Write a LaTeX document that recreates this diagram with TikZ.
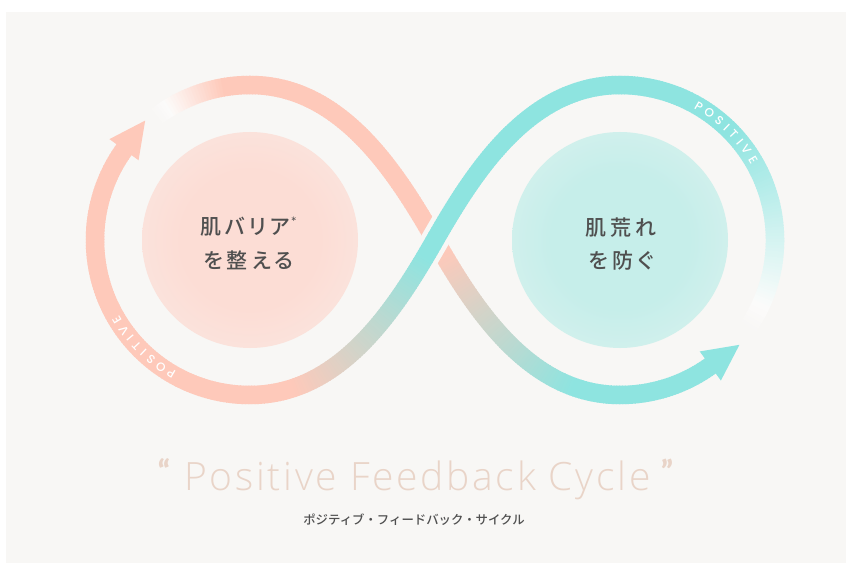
\documentclass[tikz,border=0pt]{standalone}
\usepackage{fontspec}
\usetikzlibrary{calc}

\newfontfamily\jpfont{Noto Sans CJK JP}
\IfFontExistsTF{Noto Sans CJK JP Medium}
  {\newfontfamily\jpmid[RawFeature=+palt]{Noto Sans CJK JP Medium}\newfontfamily\jpsub{Noto Sans CJK JP Medium}}
  {\newfontfamily\jpmid[RawFeature=+palt]{Noto Sans CJK JP}\newfontfamily\jpsub{Noto Sans CJK JP}}
\IfFontExistsTF{Open Sans Light}
  {\newfontfamily\titlefont[Ligatures=NoCommon,LetterSpace=7]{Open Sans Light}}
  {\newfontfamily\titlefont[Ligatures=NoCommon,LetterSpace=9]{Lato Light}}
\IfFontExistsTF{Lato Black}
  {\newfontfamily\quotefont{Lato Black}}
  {\newfontfamily\quotefont{Lato}[BoldFont=*]}
\IfFontExistsTF{Poppins Medium}
  {\newfontfamily\posfont{Poppins Medium}}
  {\newfontfamily\posfont{Poppins}}
\newfontfamily\astfont{Lato}

\definecolor{bgc}{HTML}{F8F7F5}
\definecolor{pinkc}{HTML}{FEC9BA}
\definecolor{tealc}{HTML}{8EE4E0}
\definecolor{blobP}{HTML}{FCDDD5}
\definecolor{blobT}{HTML}{C6EEEA}
\definecolor{txtc}{HTML}{4F4F4F}
\definecolor{titlec}{HTML}{E9D4C8}
\colorlet{blobPa}{blobP!80!bgc}
\colorlet{blobPb}{blobP!52!bgc}
\colorlet{blobPc}{blobP!26!bgc}
\colorlet{blobPd}{blobP!8!bgc}
\colorlet{blobTa}{blobT!80!bgc}
\colorlet{blobTb}{blobT!52!bgc}
\colorlet{blobTc}{blobT!26!bgc}
\colorlet{blobTd}{blobT!8!bgc}
\colorlet{fadec}{white!60!bgc}

\pgfdeclareradialshading{blobpink}{\pgfpointorigin}{color(0bp)=(blobP); color(16bp)=(blobP); color(25bp)=(blobPa); color(32bp)=(blobPb); color(38bp)=(blobPc); color(44bp)=(blobPd); color(50bp)=(bgc)}
\pgfdeclareradialshading{blobteal}{\pgfpointorigin}{color(0bp)=(blobT); color(16bp)=(blobT); color(25bp)=(blobTa); color(32bp)=(blobTb); color(38bp)=(blobTc); color(44bp)=(blobTd); color(50bp)=(bgc)}

\newcommand\jsp{\kern4pt}

\tikzset{
  strand/.style={line width=18.5pt},
  centertxt/.style={font=\jpmid\fontsize{21}{24}\selectfont, text=txtc, inner sep=0pt},
  postxt/.style={font=\posfont\fontsize{12}{12}\selectfont, text=white, inner sep=0pt, anchor=base},
  titletxt/.style={text=titlec, anchor=base, inner sep=0pt}
}

\def\pathA{([shift={(128:155pt)}]cL) arc[start angle=128,end angle=90,radius=155pt] .. controls (340,478) and (395,393) .. (cX) .. controls (475,253) and (530,168) .. (620,168) arc[start angle=270,end angle=306,radius=155pt]}
\def\pathB{([shift={(-35:155pt)}]cR) arc[start angle=-35,end angle=90,radius=155pt] .. controls (530,478) and (475,393) .. (cX) .. controls (395,253) and (340,168) .. (250,168) arc[start angle=270,end angle=144,radius=155pt]}

\begin{document}
\begin{tikzpicture}[x=1pt,y=1pt]
\useasboundingbox (0,0) rectangle (846,563);
\fill[white] (0,0) rectangle (846,563);
\fill[bgc] (6,0) rectangle (846,551);

\coordinate (cL) at (250,323);
\coordinate (cR) at (620,323);
\coordinate (cX) at (435,323);

% soft blobs
\shade[shading=blobpink] (cL) circle[radius=108pt];
\shade[shading=blobteal] (cR) circle[radius=108pt];

% strand A : pink -> teal
\foreach \i in {0,...,239}{
  \pgfmathsetmacro\sA{3*\i}
  \pgfmathsetmacro\wA{min(100,\sA/0.2)}
  \pgfmathsetmacro\fA{min(100,max(0,(\sA-15)/0.6))}
  \pgfmathsetmacro\gA{min(100,max(0,(\sA-370)/1.9))}
  \pgfmathsetmacro\phA{3004-\sA}
  \colorlet{mixc}{tealc!\gA!pinkc}
  \colorlet{basec}{fadec!\wA!bgc}
  \draw[strand, color=mixc!\fA!basec, dash pattern=on 4pt off 3000pt, dash phase=\phA pt] \pathA;
}
\coordinate (eA) at ([shift={(306:155pt)}]cR);
\fill[tealc] ($(eA)+(36:35pt)$) -- ($(eA)+(306:18pt)+(216:1pt)$) -- ($(eA)+(126:18pt)+(216:1pt)$) -- cycle;

% gap at the crossing
\draw[line width=28pt, bgc, dash pattern=on 90pt off 3000pt, dash phase=2545pt] \pathB;

% strand B : teal -> pink
\foreach \i in {0,...,399}{
  \pgfmathsetmacro\sB{3*\i}
  \pgfmathsetmacro\wB{min(100,\sB/0.3)}
  \pgfmathsetmacro\fB{min(100,max(0,(\sB-25)/1.9))}
  \pgfmathsetmacro\gB{min(100,max(0,(\sB-610)/1.9))}
  \pgfmathsetmacro\phB{3004-\sB}
  \colorlet{mixc}{pinkc!\gB!tealc}
  \colorlet{basec}{fadec!\wB!bgc}
  \draw[strand, color=mixc!\fB!basec, dash pattern=on 4pt off 3000pt, dash phase=\phB pt] \pathB;
}
\coordinate (eB) at ([shift={(144:155pt)}]cL);
\fill[pinkc] ($(eB)+(54:35pt)$) -- ($(eB)+(144:18pt)+(234:1pt)$) -- ($(eB)+(324:18pt)+(234:1pt)$) -- cycle;

% POSITIVE labels
\foreach \ch/\a [count=\k] in {P/59.5,O/54.89,S/50.26,I/46.63,T/42.99,I/39.36,V/35.53,E/31.0}{
  \pgfmathsetmacro\rot{\a-90}
  \node[postxt, rotate=\rot] (posR\k) at ([shift={(\a:151pt)}]cR) {\ch};
  \pgfmathsetmacro\b{\a+180}
  \pgfmathsetmacro\rotb{\b-90}
  \node[postxt, rotate=\rotb] (posL\k) at ([shift={(\b:151pt)}]cL) {\ch};
}

% centre texts
\node[centertxt] (l1) at (248.5,336.3) {肌\jsp バ\jsp リ\jsp ア\kern1pt\raisebox{0.36em}{\astfont\fontsize{14}{14}\selectfont *}};
\node[centertxt] (l2) at (248.5,303) {を\jsp 整\jsp え\jsp る};
\node[centertxt] (r1) at (621,335.5) {肌\jsp 荒\jsp れ};
\node[centertxt] (r2) at (621,302) {を\jsp 防\jsp ぐ};

% title
\node[titletxt, font=\titlefont\fontsize{39}{42}\selectfont] (title) at (417.5,73) {Positive Feedback Cycle};
\node[titletxt, font=\quotefont\fontsize{29}{30}\selectfont] (ql) at (164,82) {“};
\node[titletxt, font=\quotefont\fontsize{29}{30}\selectfont] (qr) at (667,82) {”};
\node[font=\jpsub\fontsize{12.4}{14}\selectfont, text=txtc, inner sep=0pt] (sub) at (414,43.5) {ポジティブ・フィードバック・サイクル};
\end{tikzpicture}
\end{document}
